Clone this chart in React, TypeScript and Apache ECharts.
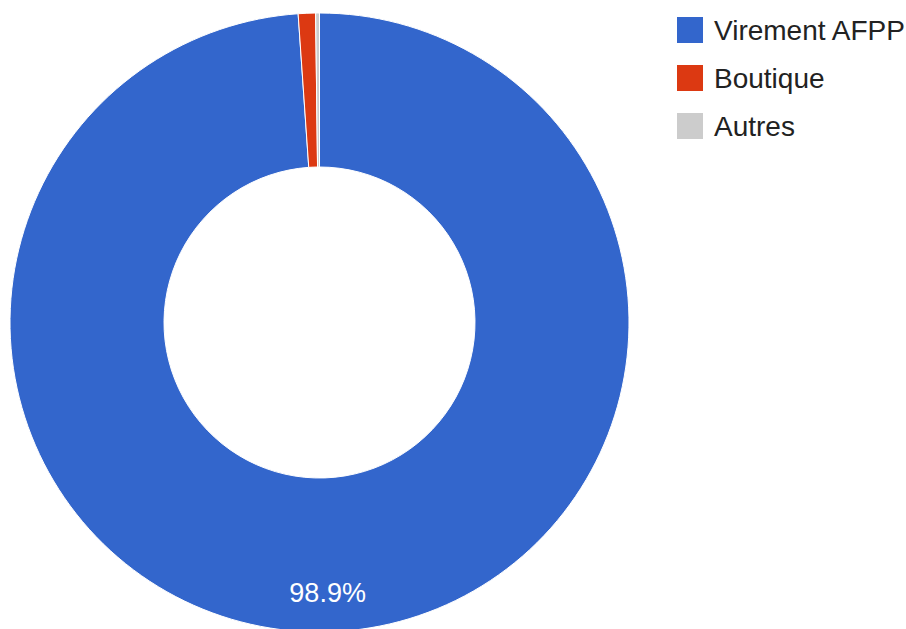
import React, { useEffect, useRef } from "react";
import * as echarts from "echarts";

const categories = ["Virement AFPP", "Boutique", "Autres"];
const values = [98.9, 0.9, 0.2];
const colors = ["#3366CC", "#DC3912", "#CCCCCC"];

export default function App() {
  const ref = useRef<HTMLDivElement>(null);
  useEffect(() => {
    if (!ref.current) return;
    const chart = echarts.init(ref.current, null, { renderer: "svg" });
    const data = categories.map((name, i) => ({
      name,
      value: values[i],
      itemStyle: { color: colors[i] },
      label: { show: i === 0 },
    }));
    chart.setOption({
      animation: false,
      backgroundColor: "#ffffff",
      legend: {
        orient: "vertical",
        left: 675,
        top: 15,
        padding: 0,
        icon: "rect",
        itemWidth: 28,
        itemHeight: 28,
        itemGap: 18,
        data: categories,
        textStyle: {
          fontSize: 28,
          lineHeight: 28,
          color: "#222222",
          fontFamily: "Liberation Sans, Arial, sans-serif",
          padding: [0, 0, 0, 5],
        },
      },
      series: [
        {
          type: "pie",
          center: [319.5, 322.5],
          radius: [155.5, 309.5],
          startAngle: 90,
          clockwise: true,
          avoidLabelOverlap: false,
          silent: true,
          itemStyle: { borderColor: "#ffffff", borderWidth: 1 },
          label: {
            position: "inside",
            formatter: (p: any) => "{s|}\n{v|" + p.percent.toFixed(1) + "%}",
            rich: {
              s: { height: 70, lineHeight: 70 },
              v: {
                color: "#ffffff",
                fontSize: 27,
                lineHeight: 30,
                fontFamily: "Liberation Sans, Arial, sans-serif",
              },
            },
          },
          labelLine: { show: false },
          data,
        },
      ],
    });
    return () => chart.dispose();
  }, []);
  return (
    <div
      ref={ref}
      style={{ position: "fixed", left: 0, top: 0, width: 906, height: 629 }}
    />
  );
}
